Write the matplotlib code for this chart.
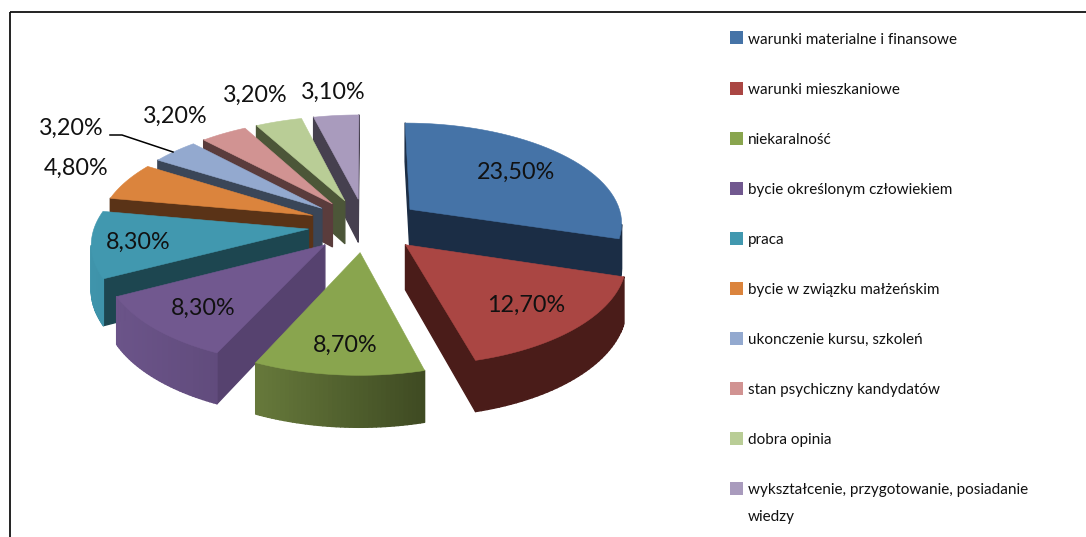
import numpy as np
import matplotlib
matplotlib.use("Agg")
import matplotlib.pyplot as plt
from matplotlib.patches import Polygon, Rectangle

categories = ["warunki materialne i finansowe", "warunki mieszkaniowe", "niekaralność",
              "bycie określonym człowiekiem", "praca", "bycie w związku małżeńskim",
              "ukonczenie kursu, szkoleń", "stan psychiczny kandydatów", "dobra opinia",
              "wykształcenie, przygotowanie, posiadanie\nwiedzy"]
values = [23.5, 12.7, 8.7, 8.3, 8.3, 4.8, 3.2, 3.2, 3.2, 3.1]
value_labels = ["23,50%", "12,70%", "8,70%", "8,30%", "8,30%", "4,80%", "3,20%", "3,20%", "3,20%", "3,10%"]

top_colors = ["#4573A7", "#AA4643", "#89A54E", "#71588F", "#4198AF",
              "#DB843D", "#93A9CF", "#D19392", "#B9CD96", "#A99BBD"]
cut_colors = ["#1B2D45", "#4A1C19", "#4A5A2C", "#56426F", "#1D4650",
              "#5A3317", "#3A4658", "#5A3C3C", "#4C5638", "#46404F"]
rim_left = ["#1B2D45", "#4A1C19", "#66793B", "#6B5489", "#3F94AB",
            "#5A3317", "#3A4658", "#5A3C3C", "#4C5638", "#46404F"]
rim_right = ["#1B2D45", "#4A1C19", "#3E4A22", "#56426F", "#2F7F95",
             "#5A3317", "#3A4658", "#5A3C3C", "#4C5638", "#46404F"]
label_xy = [(516, 172), (526, 305), (345, 345), (203, 308), (138, 242),
            (76, 168), (71, 128), (175, 116), (255, 95), (333, 92)]
legend_rows = [37.5, 88, 138, 188, 238, 288, 338, 388, 438, 488]

CX, CY, A, B, K, E, D, R = 365, 225, 219, 103, 0.125, 0.26, 44, 0.975


def project(u, v, drop=0.0):
    s = 1 / (1 + K * v)
    return CX + A * u * s, CY - B * v * s + drop * s


def mix(c1, c2, t):
    a, b = np.array(matplotlib.colors.to_rgb(c1)), np.array(matplotlib.colors.to_rgb(c2))
    return tuple(a + (b - a) * t)


plt.rcParams["font.family"] = ["Lato", "DejaVu Sans"]
fig = plt.figure(figsize=(10.86, 5.37), dpi=100)
ax = fig.add_axes([0, 0, 1, 1])
ax.set_xlim(0, 1086)
ax.set_ylim(537, 0)
ax.axis("off")

ax.add_patch(Rectangle((9.5, 11.5), 1200, 700, fill=False, ec="#111111", lw=1.3))

total = sum(values)
edges = np.cumsum([0] + values) / total * 2 * np.pi
wedges = []
for i in range(len(values)):
    a0, a1 = np.pi / 2 - edges[i], np.pi / 2 - edges[i + 1]
    mid = (a0 + a1) / 2
    wedges.append((np.sin(mid), i, a0, a1, mid))

for _, i, a0, a1, mid in sorted(wedges, key=lambda w: -w[0]):
    ox, oy = E * np.cos(mid), E * np.sin(mid)
    th = np.linspace(a0, a1, 40)
    us = np.r_[ox, ox + R * np.cos(th)]
    vs = np.r_[oy, oy + R * np.sin(th)]
    xt, yt = project(us, vs)
    xb, yb = project(us, vs, D)
    n = len(us)
    xmin, xmax = xt.min(), xt.max()
    for j in range(n):
        k = (j + 1) % n
        if xt[k] >= xt[j]:
            continue
        is_cut = j == 0 or k == 0
        if is_cut:
            col = cut_colors[i]
        else:
            col = mix(rim_left[i], rim_right[i], ((xt[j] + xt[k]) / 2 - xmin) / max(xmax - xmin, 1))
        ax.add_patch(Polygon([(xt[j], yt[j]), (xt[k], yt[k]), (xb[k], yb[k]), (xb[j], yb[j])],
                             fc=col, ec=col, lw=1.0, joinstyle="round"))
    ax.add_patch(Polygon(np.c_[xt, yt], fc=top_colors[i], ec=top_colors[i], lw=0.4))

for (x, y), s in zip(label_xy, value_labels):
    ax.text(x, y, s, ha="center", va="center", fontsize=16.8, color="#111111")
ax.plot([110, 122, 173], [135, 135, 152], color="black", lw=1.1)

for y, name, col in zip(legend_rows, categories, top_colors):
    ax.add_patch(Rectangle((730, y - 6.5), 13, 13, fc=col, ec="none"))
    ax.text(748, y - 5, name, ha="left", va="top", fontsize=11, color="#111111", linespacing=2.15)

fig.savefig("out.png", dpi=100)
